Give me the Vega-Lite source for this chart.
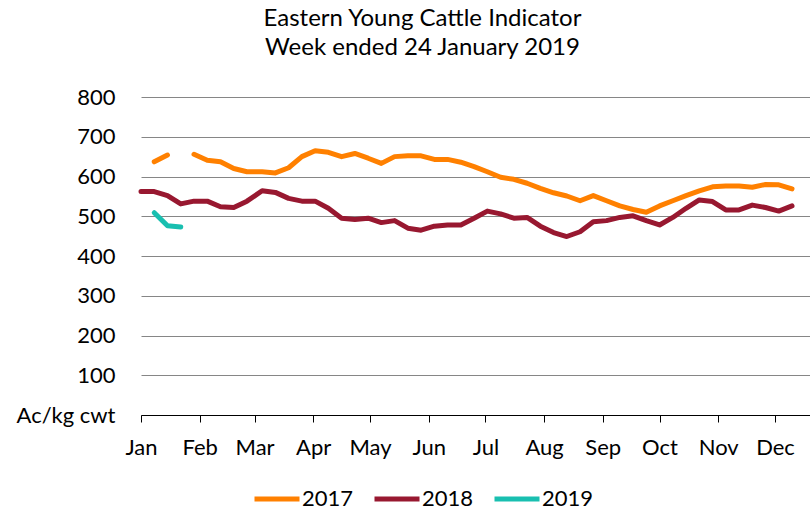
{
  "$schema": "https://vega.github.io/schema/vega-lite/v6.json",
  "width": 669,
  "height": 318,
  "autosize": "none",
  "padding": {"left": 141, "top": 97, "right": 0, "bottom": 97},
  "background": "white",
  "config": {"font": "Lato", "view": {"stroke": null}},
  "title": {
    "text": ["Eastern Young Cattle Indicator", "Week ended 24 January 2019"],
    "fontSize": 24,
    "fontWeight": "normal",
    "color": "black",
    "lineHeight": 29,
    "anchor": "middle",
    "frame": "group",
    "dx": -53,
    "offset": 26
  },
  "data": {
    "values": [
      {"date": "2017-01-08", "year": "2017", "price": 637},
      {"date": "2017-01-15", "year": "2017", "price": 654},
      {"date": "2017-01-22", "year": "2017", "price": null},
      {"date": "2017-01-29", "year": "2017", "price": 656},
      {"date": "2017-02-05", "year": "2017", "price": 641},
      {"date": "2017-02-12", "year": "2017", "price": 637},
      {"date": "2017-02-19", "year": "2017", "price": 620},
      {"date": "2017-02-26", "year": "2017", "price": 612},
      {"date": "2017-03-05", "year": "2017", "price": 612},
      {"date": "2017-03-12", "year": "2017", "price": 609},
      {"date": "2017-03-19", "year": "2017", "price": 622},
      {"date": "2017-03-26", "year": "2017", "price": 650},
      {"date": "2017-04-02", "year": "2017", "price": 665},
      {"date": "2017-04-09", "year": "2017", "price": 661},
      {"date": "2017-04-16", "year": "2017", "price": 650},
      {"date": "2017-04-23", "year": "2017", "price": 658},
      {"date": "2017-04-30", "year": "2017", "price": 646},
      {"date": "2017-05-07", "year": "2017", "price": 633},
      {"date": "2017-05-14", "year": "2017", "price": 650},
      {"date": "2017-05-21", "year": "2017", "price": 652},
      {"date": "2017-05-28", "year": "2017", "price": 652},
      {"date": "2017-06-04", "year": "2017", "price": 643},
      {"date": "2017-06-11", "year": "2017", "price": 643},
      {"date": "2017-06-18", "year": "2017", "price": 636},
      {"date": "2017-06-25", "year": "2017", "price": 625},
      {"date": "2017-07-02", "year": "2017", "price": 612},
      {"date": "2017-07-09", "year": "2017", "price": 598},
      {"date": "2017-07-16", "year": "2017", "price": 593},
      {"date": "2017-07-23", "year": "2017", "price": 583},
      {"date": "2017-07-30", "year": "2017", "price": 570},
      {"date": "2017-08-06", "year": "2017", "price": 559},
      {"date": "2017-08-13", "year": "2017", "price": 551},
      {"date": "2017-08-20", "year": "2017", "price": 539},
      {"date": "2017-08-27", "year": "2017", "price": 552},
      {"date": "2017-09-03", "year": "2017", "price": 539},
      {"date": "2017-09-10", "year": "2017", "price": 526},
      {"date": "2017-09-17", "year": "2017", "price": 517},
      {"date": "2017-09-24", "year": "2017", "price": 510},
      {"date": "2017-10-01", "year": "2017", "price": 526},
      {"date": "2017-10-08", "year": "2017", "price": 539},
      {"date": "2017-10-15", "year": "2017", "price": 552},
      {"date": "2017-10-22", "year": "2017", "price": 564},
      {"date": "2017-10-29", "year": "2017", "price": 574},
      {"date": "2017-11-05", "year": "2017", "price": 576},
      {"date": "2017-11-12", "year": "2017", "price": 576},
      {"date": "2017-11-19", "year": "2017", "price": 573},
      {"date": "2017-11-26", "year": "2017", "price": 580},
      {"date": "2017-12-03", "year": "2017", "price": 579},
      {"date": "2017-12-10", "year": "2017", "price": 569},
      {"date": "2018-01-01", "year": "2018", "price": 562},
      {"date": "2018-01-08", "year": "2018", "price": 562},
      {"date": "2018-01-15", "year": "2018", "price": 552},
      {"date": "2018-01-22", "year": "2018", "price": 531},
      {"date": "2018-01-29", "year": "2018", "price": 538},
      {"date": "2018-02-05", "year": "2018", "price": 538},
      {"date": "2018-02-12", "year": "2018", "price": 524},
      {"date": "2018-02-19", "year": "2018", "price": 522},
      {"date": "2018-02-26", "year": "2018", "price": 538},
      {"date": "2018-03-05", "year": "2018", "price": 564},
      {"date": "2018-03-12", "year": "2018", "price": 560},
      {"date": "2018-03-19", "year": "2018", "price": 545},
      {"date": "2018-03-26", "year": "2018", "price": 538},
      {"date": "2018-04-02", "year": "2018", "price": 538},
      {"date": "2018-04-09", "year": "2018", "price": 520},
      {"date": "2018-04-16", "year": "2018", "price": 495},
      {"date": "2018-04-23", "year": "2018", "price": 492},
      {"date": "2018-04-30", "year": "2018", "price": 495},
      {"date": "2018-05-07", "year": "2018", "price": 484},
      {"date": "2018-05-14", "year": "2018", "price": 489},
      {"date": "2018-05-21", "year": "2018", "price": 470},
      {"date": "2018-05-28", "year": "2018", "price": 465},
      {"date": "2018-06-04", "year": "2018", "price": 475},
      {"date": "2018-06-11", "year": "2018", "price": 478},
      {"date": "2018-06-18", "year": "2018", "price": 478},
      {"date": "2018-06-25", "year": "2018", "price": 495},
      {"date": "2018-07-02", "year": "2018", "price": 513},
      {"date": "2018-07-09", "year": "2018", "price": 506},
      {"date": "2018-07-16", "year": "2018", "price": 495},
      {"date": "2018-07-23", "year": "2018", "price": 497},
      {"date": "2018-07-30", "year": "2018", "price": 475},
      {"date": "2018-08-06", "year": "2018", "price": 459},
      {"date": "2018-08-13", "year": "2018", "price": 449},
      {"date": "2018-08-20", "year": "2018", "price": 461},
      {"date": "2018-08-27", "year": "2018", "price": 486},
      {"date": "2018-09-03", "year": "2018", "price": 489},
      {"date": "2018-09-10", "year": "2018", "price": 497},
      {"date": "2018-09-17", "year": "2018", "price": 501},
      {"date": "2018-09-24", "year": "2018", "price": 489},
      {"date": "2018-10-01", "year": "2018", "price": 478},
      {"date": "2018-10-08", "year": "2018", "price": 497},
      {"date": "2018-10-15", "year": "2018", "price": 520},
      {"date": "2018-10-22", "year": "2018", "price": 541},
      {"date": "2018-10-29", "year": "2018", "price": 537},
      {"date": "2018-11-05", "year": "2018", "price": 516},
      {"date": "2018-11-12", "year": "2018", "price": 516},
      {"date": "2018-11-19", "year": "2018", "price": 528},
      {"date": "2018-11-26", "year": "2018", "price": 522},
      {"date": "2018-12-03", "year": "2018", "price": 513},
      {"date": "2018-12-10", "year": "2018", "price": 526},
      {"date": "2019-01-08", "year": "2019", "price": 509},
      {"date": "2019-01-15", "year": "2019", "price": 476},
      {"date": "2019-01-22", "year": "2019", "price": 473}
    ]
  },
  "mark": {"type": "line", "strokeWidth": 5, "strokeCap": "round", "strokeJoin": "round"},
  "encoding": {
    "x": {
      "field": "date",
      "type": "temporal",
      "timeUnit": "utcmonthdate",
      "title": null,
      "scale": {
        "domain": [
          {"year": 2012, "month": 1, "date": 1, "utc": true},
          {"year": 2012, "month": 12, "date": 19, "hours": 12, "utc": true}
        ]
      },
      "axis": {
        "tickCount": {"interval": "month", "step": 1},
        "labelExpr": "utcFormat(datum.value, '%b')",
        "grid": false,
        "domainColor": "black",
        "domainWidth": 1,
        "tickColor": "black",
        "tickSize": 7,
        "labelPadding": 15,
        "labelFontSize": 22,
        "labelColor": "black",
        "labelAlign": "center",
        "labelFlush": false,
        "labelOverlap": false
      }
    },
    "y": {
      "field": "price",
      "type": "quantitative",
      "title": null,
      "scale": {"domain": [0, 800], "nice": false, "zero": true},
      "axis": {
        "values": [0, 100, 200, 300, 400, 500, 600, 700, 800],
        "labelExpr": "datum.value == 0 ? 'Ac/kg cwt' : datum.label",
        "domain": false,
        "ticks": false,
        "grid": true,
        "gridColor": "#868686",
        "gridWidth": 1,
        "labelFontSize": 22,
        "labelColor": "black",
        "labelPadding": 26
      }
    },
    "color": {
      "field": "year",
      "type": "nominal",
      "scale": {"domain": ["2017", "2018", "2019"], "range": ["#FF8000", "#981830", "#19BFB0"]},
      "legend": {
        "title": null,
        "orient": "none",
        "direction": "horizontal",
        "legendX": 111,
        "legendY": 377,
        "symbolType": "stroke",
        "symbolStrokeWidth": 5,
        "symbolSize": 2025,
        "labelFontSize": 22,
        "labelColor": "black",
        "labelOffset": 0,
        "columnPadding": 10
      }
    }
  }
}
